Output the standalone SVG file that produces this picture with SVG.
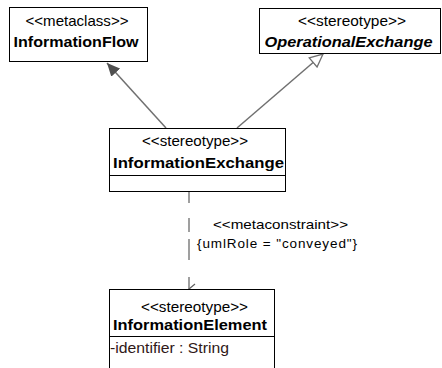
<svg xmlns="http://www.w3.org/2000/svg" width="442" height="368" viewBox="0 0 442 368">
<style>
.box{fill:#fff;stroke:#000;stroke-width:1}
.div{stroke:#000;stroke-width:1}
.st{font-family:"Liberation Sans",Arial,sans-serif;font-size:14.5px;fill:#000;text-anchor:middle}
.nm{font-family:"Liberation Sans",Arial,sans-serif;font-size:15.5px;font-weight:bold;fill:#000;text-anchor:middle}
.at{font-family:"Liberation Sans",Arial,sans-serif;font-size:14.5px;fill:#301818}
.lb{font-family:"Liberation Sans",Arial,sans-serif;font-size:13.5px;fill:#000}
.edge{stroke:#707070;stroke-width:1.5;fill:none}
</style>
<defs>
<marker id="filled" markerWidth="14" markerHeight="12" refX="13" refY="6" orient="auto" markerUnits="userSpaceOnUse">
<path d="M0,0 L13,6 L0,12 Z" fill="#505050"/>
</marker>
<marker id="hollow" markerWidth="16" markerHeight="14" refX="14" refY="7" orient="auto" markerUnits="userSpaceOnUse">
<path d="M1,1 L14,7 L1,13 Z" fill="#fff" stroke="#707070" stroke-width="1.3"/>
</marker>
<marker id="open" markerWidth="12" markerHeight="12" refX="6" refY="7" orient="auto" markerUnits="userSpaceOnUse">
<path d="M1,1 L6,7 L11,1" fill="none" stroke="#606060" stroke-width="1.2"/>
</marker>
</defs>
<g id="connectors">
<line class="edge" x1="166" y1="128" x2="107" y2="63" marker-end="url(#filled)"/>
<line class="edge" x1="237" y1="128" x2="323" y2="54" marker-end="url(#hollow)"/>
<path d="M189,192 V203 M189,218 V232 M189,239 V260" stroke="#606060" stroke-width="1.2" fill="none"/>
<line x1="189" y1="277" x2="189" y2="289" stroke="#606060" stroke-width="1.2" marker-end="url(#open)"/>
<text class="lb" x="213" y="229" textLength="135" lengthAdjust="spacingAndGlyphs">&lt;&lt;metaconstraint&gt;&gt;</text>
<text class="lb" x="197" y="248" textLength="160" lengthAdjust="spacing">{umlRole = "conveyed"}</text>
</g>
<g id="InformationFlow">
<rect class="box" x="9.5" y="7.5" width="138" height="54"/>
<text class="st" x="77" y="26" textLength="103" lengthAdjust="spacingAndGlyphs">&lt;&lt;metaclass&gt;&gt;</text>
<text class="nm" x="76" y="46.5" textLength="125" lengthAdjust="spacingAndGlyphs">InformationFlow</text>
</g>
<g id="OperationalExchange">
<rect class="box" x="259.5" y="8.5" width="181" height="45"/>
<text class="st" x="352" y="25.5" textLength="108" lengthAdjust="spacingAndGlyphs">&lt;&lt;stereotype&gt;&gt;</text>
<text class="nm" x="348.5" y="46.5" font-style="italic" textLength="168" lengthAdjust="spacingAndGlyphs">OperationalExchange</text>
</g>
<g id="InformationExchange">
<rect class="box" x="109.5" y="128.5" width="176" height="63"/>
<line class="div" x1="109.5" y1="175.5" x2="285.5" y2="175.5"/>
<text class="st" x="195" y="145.5" textLength="106" lengthAdjust="spacingAndGlyphs">&lt;&lt;stereotype&gt;&gt;</text>
<text class="nm" x="198.5" y="167.5" textLength="171" lengthAdjust="spacingAndGlyphs">InformationExchange</text>
</g>
<g id="InformationElement">
<rect class="box" x="109.5" y="289.5" width="165" height="85"/>
<line class="div" x1="109.5" y1="336.5" x2="274.5" y2="336.5"/>
<text class="st" x="194.5" y="311.5" textLength="107" lengthAdjust="spacingAndGlyphs">&lt;&lt;stereotype&gt;&gt;</text>
<text class="nm" x="190" y="330" textLength="154" lengthAdjust="spacingAndGlyphs">InformationElement</text>
<text class="at" x="110" y="352.5" textLength="119" lengthAdjust="spacingAndGlyphs">-identifier : String</text>
</g>
</svg>
